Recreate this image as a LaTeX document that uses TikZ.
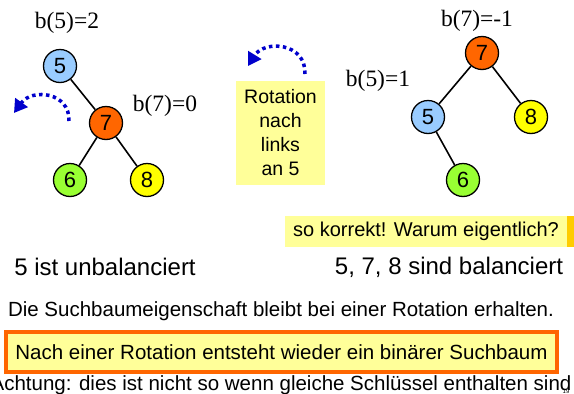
\documentclass[tikz,border=0pt]{standalone}
\usepackage{fontspec}
\setmainfont{Liberation Sans}
\newfontfamily\serifb{Liberation Serif}
\usetikzlibrary{arrows.meta}
\definecolor{nblue}{RGB}{153,204,255}
\definecolor{norange}{RGB}{255,102,0}
\definecolor{ngreen}{RGB}{153,255,51}
\definecolor{nyellow}{RGB}{255,255,0}
\definecolor{pyellow}{RGB}{255,255,153}
\definecolor{darr}{RGB}{0,0,204}
\definecolor{gold}{RGB}{255,204,0}
\tikzset{
  tnode/.style={circle,draw=black,line width=1.3pt,minimum size=33pt,inner sep=0pt,font=\fontsize{22}{24}\selectfont},
  tedge/.style={line width=1.6pt},
  bal/.style={font=\serifb\fontsize{23.5}{25}\selectfont,inner sep=0pt},
  rotarr/.style={darr,line width=3.5pt,dash pattern=on 3.5pt off 3.5pt,-{Triangle[length=13pt,width=15pt]}},
  txt/.style={inner sep=0pt}
}
\begin{document}
\begin{tikzpicture}[x=1pt,y=-1pt]
\useasboundingbox (0,0) rectangle (574,394);
% left tree
\node[tnode,fill=nblue] (l5) at (60,66) {5};
\node[tnode,fill=norange] (l7) at (106,123) {7};
\node[tnode,fill=ngreen] (l6) at (70,180) {6};
\node[tnode,fill=nyellow] (l8) at (147,180) {8};
\draw[tedge] (l5) -- (l7);
\draw[tedge] (l7) -- (l6);
\draw[tedge] (l7) -- (l8);
\node[bal] (lb5) at (67,23) {b(5)=2};
\node[bal] (lb7) at (165,106) {b(7)=0};
\coordinate (la1) at (69,121);
\coordinate (la2) at (14,113);
\draw[rotarr] (la1) .. controls (70,92) and (32,88) .. (la2);
% middle
\coordinate (ma1) at (305,74);
\coordinate (ma2) at (248,66);
\draw[rotarr] (ma1) .. controls (306,42) and (264,40) .. (ma2);
\node[fill=pyellow,minimum width=89pt,minimum height=104pt,inner sep=0pt,align=center,font=\fontsize{19.5}{24}\selectfont] (rotbox) at (280.5,133) {Rotation\\nach\\links\\an 5};
% right tree
\node[tnode,fill=norange] (r7) at (482,53) {7};
\node[tnode,fill=nblue] (r5) at (428,117) {5};
\node[tnode,fill=nyellow] (r8) at (531,117) {8};
\node[tnode,fill=ngreen] (r6) at (463,180) {6};
\draw[tedge] (r7) -- (r5);
\draw[tedge] (r7) -- (r8);
\draw[tedge] (r5) -- (r6);
\node[bal] (rb7) at (477,21) {b(7)=-1};
\node[bal] (rb5) at (378,81) {b(5)=1};
% question box
\node[fill=pyellow,minimum width=282pt,minimum height=31pt,inner sep=0pt,font=\fontsize{20}{22}\selectfont] (qbox) at (426,231.5) {so korrekt! Warum eigentlich?};
\fill[gold] (qbox.north east) rectangle ++(8,31);
% texts
\node[txt,font=\fontsize{24}{26}\selectfont] (unb) at (105,267) {5 ist unbalanciert};
\node[txt,font=\fontsize{24}{26}\selectfont] (bal) at (449,267) {5, 7, 8 sind balanciert};
\node[txt,font=\fontsize{20.5}{22}\selectfont] (prop) at (281,311) {Die Suchbaumeigenschaft bleibt bei einer Rotation erhalten.};
\node[draw=norange,line width=4pt,fill=pyellow,minimum width=551pt,minimum height=40pt,inner sep=0pt,font=\fontsize{20.5}{22}\selectfont] (nach) at (281.5,352) {Nach einer Rotation entsteht wieder ein binärer Suchbaum};
\node[txt,font=\fontsize{20.5}{22}\selectfont] (acht) at (281,385) {Achtung: dies ist nicht so wenn gleiche Schlüssel enthalten sind};
\node[txt,font=\fontsize{6}{7}\selectfont] (pg) at (566,391) {19};
\end{tikzpicture}
\end{document}
